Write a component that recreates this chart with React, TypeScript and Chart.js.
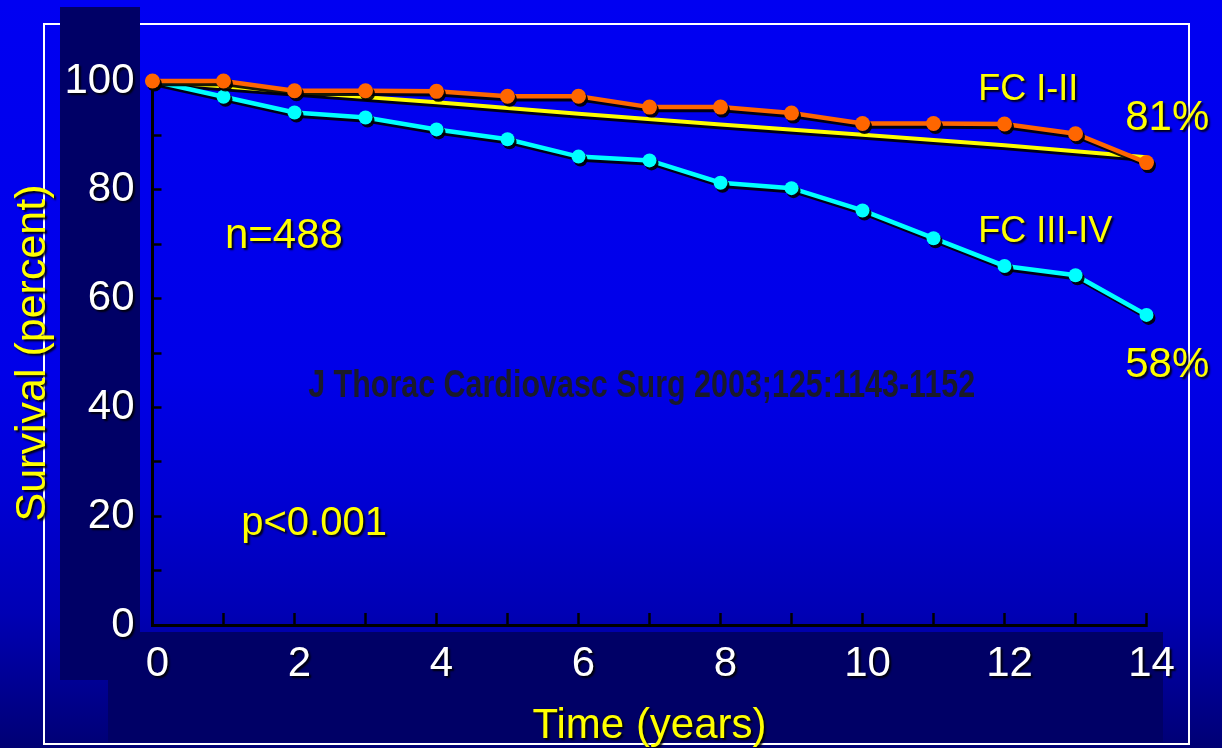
import React, { useEffect, useRef } from "react";
import { Chart, registerables } from "chart.js";

Chart.register(...registerables);

// ---- data ----
const years = [0, 1, 2, 3, 4, 5, 6, 7, 8, 9, 10, 11, 12, 13, 14];
const fcOneTwo = [100, 100, 98.2, 98.2, 98.1, 97.2, 97.2, 95.2, 95.2, 94.1, 92.2, 92.2, 92.1, 90.3, 85.0];
const fcThreeFour = [100, 97.1, 94.2, 93.3, 91.1, 89.3, 86.1, 85.4, 81.3, 80.3, 76.2, 71.1, 66.0, 64.3, 57.0];
const expectedYears = [0, 2, 4, 6, 8, 10, 12, 14];
const expectedSurvival = [100, 98.0, 96.1, 94.0, 92.0, 90.1, 88.2, 86.0];
const xTickLabels = ["0", "2", "4", "6", "8", "10", "12", "14"];
const yTickLabels = ["0", "20", "40", "60", "80", "100"];

const labelTexts = {
  groupA: "FC I-II",
  groupAEnd: "81%",
  groupB: "FC III-IV",
  groupBEnd: "58%",
  n: "n=488",
  p: "p<0.001",
  ref: "J Thorac Cardiovasc Surg 2003;125:1143-1152",
  xTitle: "Time (years)",
  yTitle: "Survival (percent)",
};

const FONT = '"Liberation Sans", Arial, Helvetica, sans-serif';

function applyShadow(ctx: CanvasRenderingContext2D, dx = 2, dy = 2, blur = 2) {
  ctx.shadowColor = "rgba(0,0,0,0.9)";
  ctx.shadowOffsetX = dx;
  ctx.shadowOffsetY = dy;
  ctx.shadowBlur = blur;
}

const backdropPlugin = {
  id: "backdrop",
  beforeDraw(chart: any) {
    const { ctx, width, height } = chart;
    ctx.save();
    const g = ctx.createLinearGradient(0, 0, 0, height);
    g.addColorStop(0, "#0000f2");
    g.addColorStop(0.5, "#0000e8");
    g.addColorStop(0.66, "#0000d4");
    g.addColorStop(0.82, "#0000b4");
    g.addColorStop(1, "#000074");
    ctx.fillStyle = g;
    ctx.fillRect(0, 0, width, height);
    // white frame
    ctx.strokeStyle = "#ffffff";
    ctx.lineWidth = 2;
    ctx.strokeRect(44, 24, 1145, 720);
    // dark panels behind the tick labels
    ctx.fillStyle = "#000066";
    ctx.fillRect(60, 7, 80, 673);
    ctx.fillRect(108, 632, 1055, 110);
    ctx.restore();

    // give tick labels and axis titles a drop shadow
    for (const s of Object.values(chart.scales) as any[]) {
      if (s.__shadowed) continue;
      s.__shadowed = true;
      for (const m of ["drawLabels", "drawTitle"]) {
        const orig = s[m];
        s[m] = function (...args: any[]) {
          const c = this.ctx as CanvasRenderingContext2D;
          c.save();
          applyShadow(c);
          orig.apply(this, args);
          c.restore();
        };
      }
    }
  },
  beforeDatasetsDraw(chart: any) {
    chart.ctx.save();
    applyShadow(chart.ctx, 2, 3, 0.5);
  },
  afterDatasetsDraw(chart: any) {
    chart.ctx.restore();
  },
};

type Note = { text: string; x: number; y: number; size: number; align: CanvasTextAlign; color: string; bold?: boolean; maxWidth?: number; shadow: boolean };

const notesPlugin = {
  id: "notes",
  afterDraw(chart: any) {
    const { ctx } = chart;
    const xs = chart.scales.x;
    const ys = chart.scales.y;
    const notes: Note[] = [
      { text: labelTexts.groupA, x: 11.63, y: 98.4, size: 36, align: "left", color: "#ffff00", shadow: true },
      { text: labelTexts.groupAEnd, x: 13.7, y: 93.2, size: 42, align: "left", color: "#ffff00", shadow: true },
      { text: labelTexts.groupB, x: 11.63, y: 72.3, size: 36, align: "left", color: "#ffff00", shadow: true },
      { text: labelTexts.groupBEnd, x: 13.7, y: 47.8, size: 42, align: "left", color: "#ffff00", shadow: true },
      { text: labelTexts.n, x: 1.02, y: 71.5, size: 42, align: "left", color: "#ffff00", shadow: true },
      { text: labelTexts.p, x: 1.25, y: 18.5, size: 40, align: "left", color: "#ffff00", shadow: true },
      { text: labelTexts.ref, x: 6.89, y: 43.9, size: 38, align: "center", color: "#1a1a2a", bold: true, maxWidth: 667, shadow: false },
    ];
    for (const n of notes) {
      ctx.save();
      if (n.shadow) applyShadow(ctx);
      ctx.fillStyle = n.color;
      ctx.textAlign = n.align;
      ctx.textBaseline = "middle";
      ctx.font = `${n.bold ? "bold " : ""}${n.size}px ${n.bold ? '"Liberation Sans Narrow", ' : ""}${FONT}`;
      const px = xs.getPixelForValue(n.x);
      const py = ys.getPixelForValue(n.y);
      if (n.maxWidth) ctx.fillText(n.text, px, py, n.maxWidth);
      else ctx.fillText(n.text, px, py);
      ctx.restore();
    }
  },
};

export default function App() {
  const ref = useRef<HTMLCanvasElement>(null);

  useEffect(() => {
    const canvas = ref.current;
    if (!canvas) return;
    const chart = new Chart(canvas, {
      type: "line",
      data: {
        datasets: [
          {
            label: labelTexts.groupA,
            data: years.map((x, i) => ({ x, y: fcOneTwo[i] })),
            borderColor: "#ff6600",
            backgroundColor: "#ff6600",
            borderWidth: 4.5,
            pointRadius: 7.5,
            pointBorderWidth: 0,
            pointBackgroundColor: "#ff6600",
            tension: 0,
            clip: false,
          } as any,
          {
            label: labelTexts.groupB,
            data: years.map((x, i) => ({ x, y: fcThreeFour[i] })),
            borderColor: "#00ffff",
            backgroundColor: "#00ffff",
            borderWidth: 4.5,
            pointRadius: 7,
            pointBorderWidth: 0,
            pointBackgroundColor: "#00ffff",
            tension: 0,
            clip: false,
          } as any,
          {
            label: "expected",
            data: expectedYears.map((x, i) => ({ x, y: expectedSurvival[i] })),
            borderColor: "#ffff00",
            backgroundColor: "#ffff00",
            borderWidth: 4,
            pointRadius: 0,
            tension: 0,
            clip: false,
          } as any,
        ],
      },
      options: {
        responsive: false,
        animation: false,
        devicePixelRatio: 1,
        layout: { padding: { left: 0, right: 75.5, top: 81, bottom: 0 } },
        plugins: {
          legend: { display: false },
          tooltip: { enabled: false },
          title: { display: false },
        },
        scales: {
          x: {
            type: "linear",
            position: "bottom",
            min: 0,
            max: 14,
            afterFit: (s: any) => {
              s.height = 123;
            },
            grid: { drawOnChartArea: false, drawTicks: true, tickLength: -12, tickColor: "#000", tickWidth: 2.5 },
            border: { display: true, color: "#000", width: 3 },
            ticks: {
              stepSize: 1,
              autoSkip: false,
              maxRotation: 0,
              color: "#ffffff",
              padding: 26,
              labelOffset: 5,
              font: { family: FONT, size: 42 },
              callback: (v: any) => {
                const s = String(v);
                return xTickLabels.includes(s) ? s : "";
              },
            },
            title: {
              display: true,
              text: labelTexts.xTitle,
              color: "#ffff00",
              font: { family: FONT, size: 42, lineHeight: 1 },
              padding: { top: 0, bottom: 1 },
            },
          },
          y: {
            min: 0,
            max: 100,
            afterFit: (s: any) => {
              s.width = 152.5;
            },
            grid: { drawOnChartArea: false, drawTicks: true, tickLength: -9, tickColor: "#000", tickWidth: 2.5 },
            border: { display: true, color: "#000", width: 3 },
            ticks: {
              stepSize: 10,
              autoSkip: false,
              color: "#ffffff",
              padding: 27,
              font: { family: FONT, size: 42 },
              callback: (v: any) => {
                const s = String(v);
                return yTickLabels.includes(s) ? s : "";
              },
            },
            title: {
              display: true,
              text: labelTexts.yTitle,
              color: "#ffff00",
              font: { family: FONT, size: 43, lineHeight: 1 },
              padding: { top: 12, bottom: 0 },
            },
          },
        },
      },
      plugins: [backdropPlugin, notesPlugin],
    });
    return () => chart.destroy();
  }, []);

  return (
    <div style={{ position: "fixed", left: 0, top: 0, width: 1222, height: 748, overflow: "hidden" }}>
      <canvas ref={ref} width={1222} height={748} style={{ display: "block", width: 1222, height: 748 }} />
    </div>
  );
}
